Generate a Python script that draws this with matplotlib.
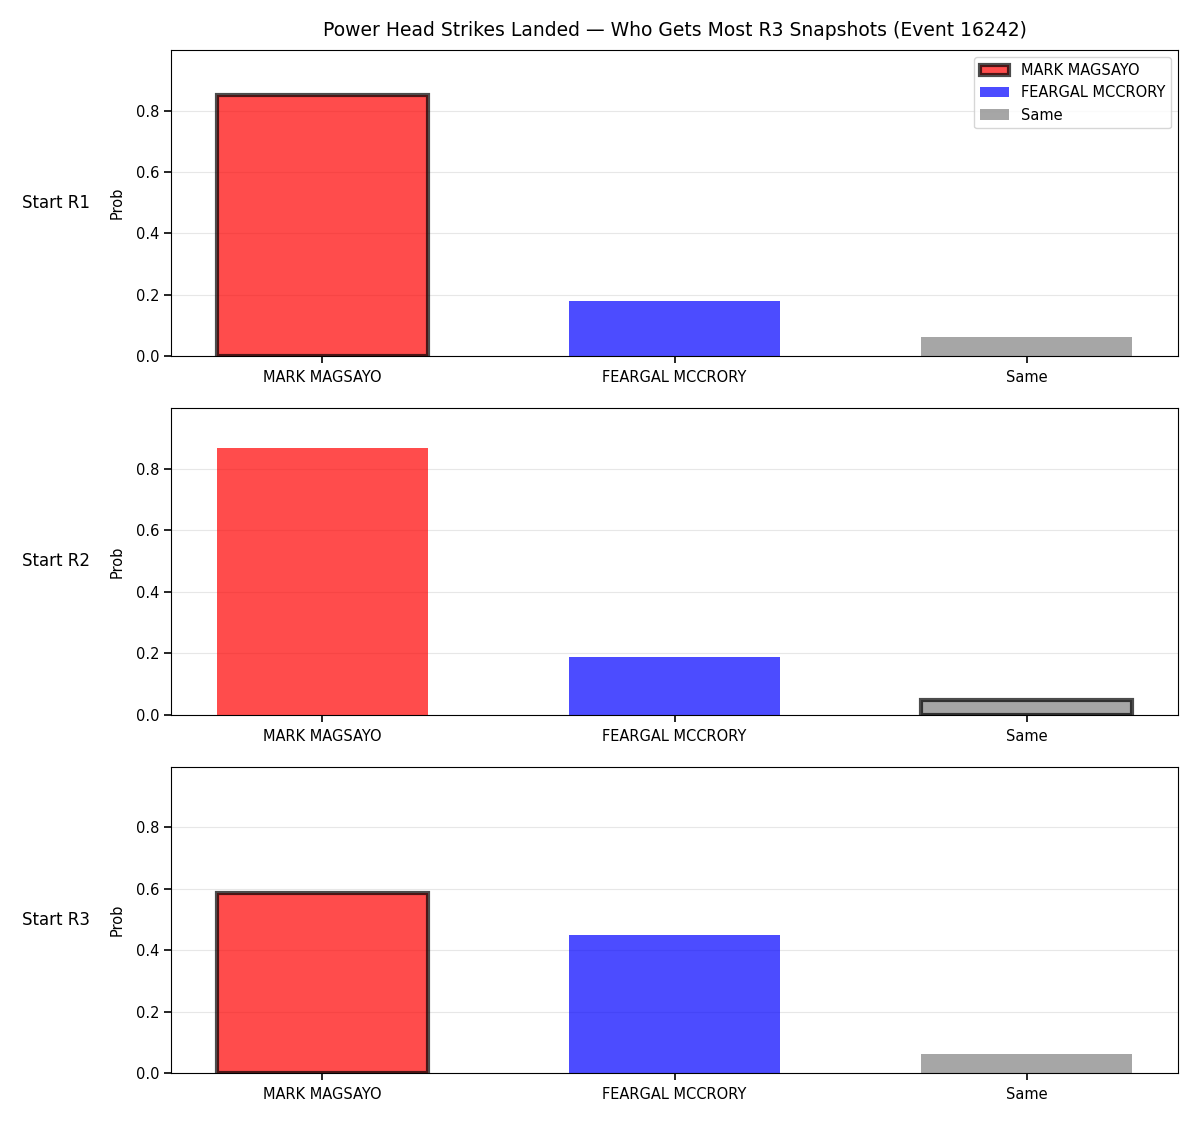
from matplotlib import pyplot as plt
import numpy as np

categories = ['MARK MAGSAYO', 'FEARGAL MCCRORY', 'Same']
rows = ['Start R1', 'Start R2', 'Start R3']
probs_r1 = [0.852, 0.179, 0.064]
probs_r2 = [0.869, 0.189, 0.049]
probs_r3 = [0.588, 0.450, 0.061]
highlight = [0, 2, 0]
colors = ['red', 'blue', 'gray']

fig, axes = plt.subplots(3, 1, figsize=(12, 11.25), dpi=100)
fig.subplots_adjust(left=0.1425, right=0.9817, top=0.9556, bottom=0.0462, hspace=0.17)

x = np.arange(len(categories))
for i, (ax, vals) in enumerate(zip(axes, [probs_r1, probs_r2, probs_r3])):
    bars = ax.bar(x, vals, width=0.6, color=colors, alpha=0.7)
    for j, b in enumerate(bars):
        b.set_label(categories[j])
        if j == highlight[i]:
            b.set_edgecolor('black')
            b.set_linewidth(3)
    ax.set_xticks(x)
    ax.set_xticklabels(categories)
    ax.tick_params(axis='both', length=5, width=1.2, labelsize=10.5)
    ax.tick_params(axis='x', pad=5)
    ax.set_ylim(0, 0.998)
    ax.set_ylabel('Prob', fontsize=10.5, labelpad=8)
    ax.grid(True, axis='y', alpha=0.3)
    ax.set_axisbelow(True)
    ax.text(-0.08, 0.5, rows[i], transform=ax.transAxes, ha='right', va='center', fontsize=12)
    if i == 0:
        ax.set_title('Power Head Strikes Landed — Who Gets Most R3 Snapshots (Event 16242)', fontsize=13.5, pad=10)
        ax.legend(loc='upper right', fontsize=10.5)

plt.savefig('out.png')
plt.close(fig)
